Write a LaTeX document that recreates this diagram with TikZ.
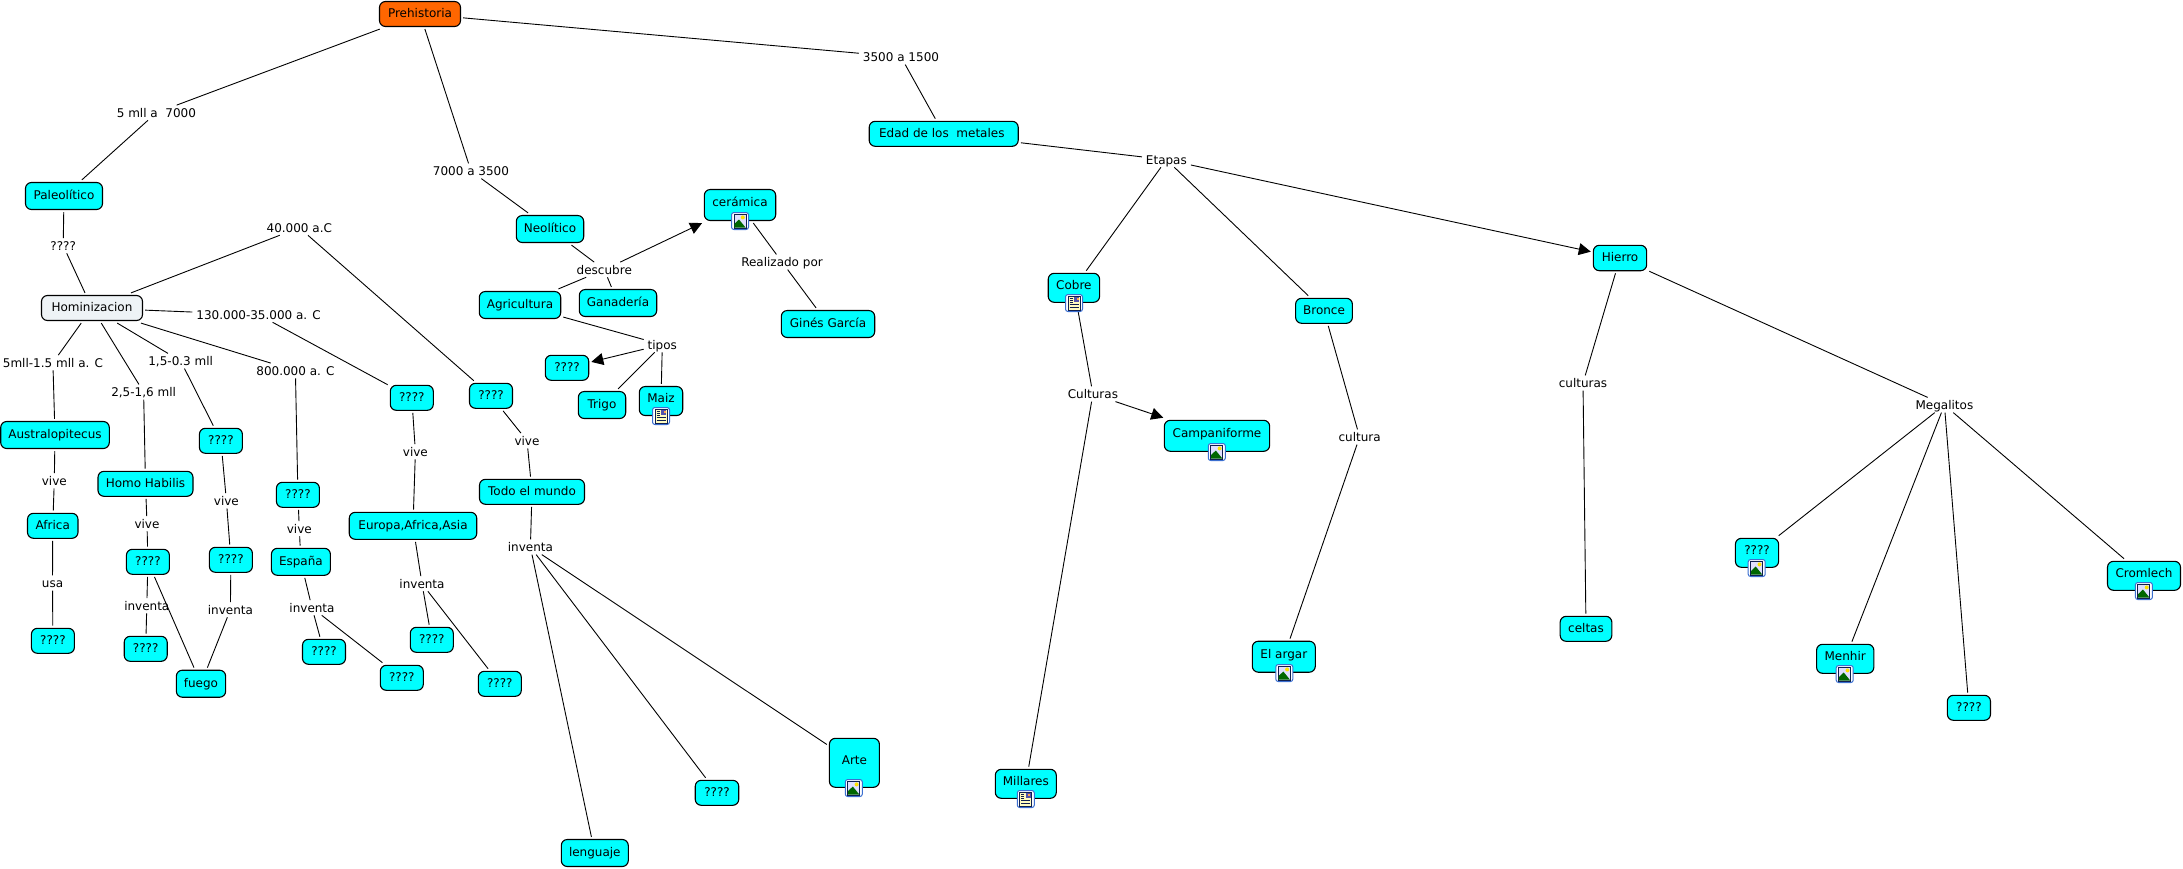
\documentclass[tikz,border=0pt]{standalone}
\usepackage{fontspec}
\setmainfont{DejaVu Sans}
\usetikzlibrary{arrows.meta}
\definecolor{cy}{HTML}{00FFFF}
\definecolor{orng}{HTML}{FF6600}
\definecolor{pale}{HTML}{EEF3F6}
\definecolor{iconblue}{HTML}{3B6FD0}
\definecolor{icondark}{HTML}{0F1F4F}
\newcommand{\up}[1]{\raisebox{1pt}{#1}}
\tikzset{
  x=0.5pt, y=-0.5pt,
  sz/.style 2 args={minimum width=#1*0.5pt, minimum height=#2*0.5pt},
  box/.style={draw=black, line width=0.55pt, fill=cy, rounded corners=3pt, inner sep=0pt, outer sep=1.3pt,
    font=\fontsize{6}{7}\selectfont, text height=4.7pt, text depth=0.9pt, align=center},
  lab/.style={inner xsep=2pt, inner ysep=0pt, outer sep=0pt, minimum height=7.6pt,
    font=\fontsize{6}{7}\selectfont, text height=5pt, text depth=0.6pt},
  con/.style={draw=black, line width=0.45pt},
  arr/.style={con, -{Triangle[length=6pt,width=6pt]}},
  imgicon/.pic={
    \draw[iconblue, line width=0.5pt, fill=white, rounded corners=1.2pt] (-8.5,-8.5) rectangle (8.5,8.5);
    \draw[icondark, line width=0.5pt, fill=blue!12] (-6,-7) rectangle (6,7);
    \fill[green!40!black] (-5.7,6.7) -- (-5.7,3) -- (-1,-1.5) -- (5.7,6.7) -- cycle;
    \fill[yellow!85!orange] (2.8,-3.6) circle (2);
  },
  docicon/.pic={
    \draw[iconblue, line width=0.5pt, fill=white, rounded corners=1.2pt] (-8.5,-8.5) rectangle (8.5,8.5);
    \draw[icondark, line width=0.5pt, fill=yellow!25] (-6,-7) rectangle (6,7);
    \fill[blue!35!gray] (0,-6) rectangle (5,-1);
    \fill[orange!70] (2.5,-5) rectangle (4.5,-3);
    \draw[icondark, line width=0.35pt] (-4.5,-5) -- (-1.5,-5) (-4.5,-3) -- (-1.5,-3) (-4.5,-1) -- (-1.5,-1)
      (-4.5,1.5) -- (4.5,1.5) (-4.5,4) -- (4.5,4);
  },
}
\begin{document}
\begin{tikzpicture}
\useasboundingbox (0,0) rectangle (2183,868);
\fill[white] (0,0) rectangle (2183,868);
% concepts
\node[box, fill=orng, sz={81}{25}] (pre) at (420,14) {Prehistoria};
\node[box, sz={77}{27}] (paleo) at (64,196) {Paleolítico};
\node[box, fill=pale, sz={101}{25}] (homin) at (92,308) {Hominizacion};
\node[box, sz={108.6}{27}] (austr) at (55,435) {Australopitecus};
\node[box, sz={95}{25}] (homo) at (145.5,483.8) {Homo Habilis};
\node[box, sz={50.5}{25}] (africa) at (52.75,525.8) {Africa};
\node[box, sz={43}{25}] (qusa) at (52.9,640.8) {????};
\node[box, sz={43}{25}] (qb) at (147.9,561.8) {????};
\node[box, sz={43}{25}] (qc) at (145.7,648.8) {????};
\node[box, sz={49.3}{27}] (fuego) at (201,683.7) {fuego};
\node[box, sz={43}{25}] (qd) at (220.9,440.8) {????};
\node[box, sz={43}{25}] (qe) at (230.9,559.8) {????};
\node[box, sz={43}{25}] (qf) at (297.9,494.8) {????};
\node[box, sz={59}{27}] (espana) at (300.9,561.8) {España};
\node[box, sz={43}{25}] (qg) at (324,651.8) {????};
\node[box, sz={43}{25}] (qh) at (401.8,677.8) {????};
\node[box, sz={127.5}{27}] (eur) at (413,525.8) {Europa,Africa,Asia};
\node[box, sz={43}{25}] (qi) at (431.8,639.8) {????};
\node[box, sz={43}{25}] (qj) at (499.8,683.8) {????};
\node[box, sz={43}{25}] (qk) at (411.8,397.8) {????};
\node[box, sz={43}{25}] (ql) at (491,395.8) {????};
\node[box, sz={105}{25}] (todo) at (532,491.8) {Todo el mundo};
\node[box, sz={67.4}{27}] (neo) at (550,229) {Neolítico};
\node[box, sz={81.4}{27}] (agri) at (520,305) {Agricultura};
\node[box, sz={77.4}{27}] (gana) at (618,303) {Ganadería};
\node[box, sz={71.4}{31}] (cer) at (740,205) {\up{cerámica}};
\node[box, sz={93.4}{27}] (gines) at (828,324) {Ginés García};
\node[box, sz={43.4}{25}] (qm) at (567,367.8) {????};
\node[box, sz={47.4}{27}] (trigo) at (602,405) {Trigo};
\node[box, sz={43.4}{29}] (maiz) at (661,401) {\up{Maiz}};
\node[box, sz={67}{27}] (leng) at (594.8,853) {lenguaje};
\node[box, sz={43.5}{25}] (qn) at (717,792.8) {????};
\node[box, sz={50}{49}] (arte) at (854.4,762.8) {\up{Arte}};
\node[box, sz={61}{29}] (mill) at (1025.8,783.8) {\up{Millares}};
\node[box, sz={149}{25}] (edad) at (943.7,133.8) {Edad de los\ \ metales\ };
\node[box, sz={51.4}{29}] (cobre) at (1073.9,287.8) {\up{Cobre}};
\node[box, sz={56.8}{25}] (bronce) at (1324,310.8) {Bronce};
\node[box, sz={105.3}{31}] (camp) at (1217,435.8) {\up{Campaniforme}};
\node[box, sz={63}{31}] (argar) at (1283.8,656.7) {\up{El argar}};
\node[box, sz={53.3}{25.4}] (hierro) at (1620,258) {Hierro};
\node[box, sz={51.7}{25}] (celtas) at (1586,628.8) {celtas};
\node[box, sz={43.2}{29}] (qo) at (1757,552.8) {\up{????}};
\node[box, sz={57.3}{29}] (menhir) at (1845.2,658.8) {\up{Menhir}};
\node[box, sz={43.1}{25}] (qp) at (1968.9,707.8) {????};
\node[box, sz={73}{29}] (crom) at (2144,575.8) {\up{Cromlech}};
% linking phrases
\node[lab] (l5m) at (156.4,112.7) {5 mll a\ \ 7000};
\node[lab] (l7k) at (471,171) {7000 a 3500};
\node[lab] (l35) at (901,57) {3500 a 1500};
\node[lab] (lq) at (63.2,245.7) {????};
\node[lab] (l40) at (299.3,227.7) {40.000 a.C};
\node[lab] (l130) at (258.6,314.7) {130.000-35.000 a. C};
\node[lab] (l5mb) at (52.9,362.7) {5mll-1.5 mll a. C};
\node[lab] (l25) at (143.6,392) {2,5-1,6 mll};
\node[lab] (l15) at (180.7,361) {1,5-0.3 mll};
\node[lab] (l800) at (295.4,370.7) {800.000 a. C};
\node[lab] (va) at (54.3,480.7) {vive};
\node[lab] (usa) at (52.5,583) {usa};
\node[lab] (vb) at (147,523.7) {vive};
\node[lab] (ia) at (146.8,605.7) {inventa};
\node[lab] (vc) at (226.4,500.7) {vive};
\node[lab] (ib) at (230.4,609.7) {inventa};
\node[lab] (vd) at (299.3,528.7) {vive};
\node[lab] (ic) at (312,607.7) {inventa};
\node[lab] (ve) at (415.4,451.7) {vive};
\node[lab] (id) at (422,583.7) {inventa};
\node[lab] (vf) at (527,440.7) {vive};
\node[lab] (ie) at (530.4,547) {inventa};
\node[lab] (desc) at (604.3,269.7) {descubre};
\node[lab] (tip) at (662.3,344.7) {tipos};
\node[lab] (real) at (782,262) {Realizado por};
\node[lab] (etap) at (1166.4,159.7) {Etapas};
\node[lab] (cult) at (1092.9,394) {Culturas};
\node[lab] (cul2) at (1359.6,437) {cultura};
\node[lab] (cul3) at (1583,383) {culturas};
\node[lab] (mega) at (1944.4,405) {Megalitos};
% connectors
\draw[con] (pre) -- (l5m);
\draw[con] (l5m) -- (paleo);
\draw[con] (pre) -- (l7k);
\draw[con] (l7k) -- (neo);
\draw[con] (pre) -- (l35);
\draw[con] (l35) -- (edad);
\draw[con] (paleo) -- (lq);
\draw[con] (lq) -- (homin);
\draw[con] (homin) -- (l40);
\draw[con] (l40) -- (ql);
\draw[con] (homin) -- (l130);
\draw[con] (l130) -- (qk);
\draw[con] (homin) -- (l5mb);
\draw[con] (l5mb) -- (austr);
\draw[con] (homin) -- (l25);
\draw[con] (l25) -- (homo);
\draw[con] (homin) -- (l15);
\draw[con] (l15) -- (qd);
\draw[con] (homin) -- (l800);
\draw[con] (l800) -- (qf);
\draw[con] (austr) -- (va);
\draw[con] (va) -- (africa);
\draw[con] (africa) -- (usa);
\draw[con] (usa) -- (qusa);
\draw[con] (homo) -- (vb);
\draw[con] (vb) -- (qb);
\draw[con] (qb) -- (ia);
\draw[con] (ia) -- (qc);
\draw[con] (qb) -- (fuego);
\draw[con] (qd) -- (vc);
\draw[con] (vc) -- (qe);
\draw[con] (qe) -- (ib);
\draw[con] (ib) -- (fuego);
\draw[con] (qf) -- (vd);
\draw[con] (vd) -- (espana);
\draw[con] (espana) -- (ic);
\draw[con] (ic) -- (qg);
\draw[con] (ic) -- (qh);
\draw[con] (qk) -- (ve);
\draw[con] (ve) -- (eur);
\draw[con] (eur) -- (id);
\draw[con] (id) -- (qi);
\draw[con] (id) -- (qj);
\draw[con] (ql) -- (vf);
\draw[con] (vf) -- (todo);
\draw[con] (todo) -- (ie);
\draw[con] (ie) -- (leng);
\draw[con] (ie) -- (qn);
\draw[con] (ie) -- (arte);
\draw[con] (neo) -- (desc);
\draw[con] (desc) -- (agri);
\draw[con] (desc) -- (gana);
\draw[arr] (desc) -- (cer);
\draw[con] (agri) -- (tip);
\draw[arr] (tip) -- (qm);
\draw[con] (tip) -- (trigo);
\draw[con] (tip) -- (maiz);
\draw[con] (cer) -- (real);
\draw[con] (real) -- (gines);
\draw[con] (edad) -- (etap);
\draw[con] (etap) -- (cobre);
\draw[con] (etap) -- (bronce);
\draw[arr] (etap) -- (hierro);
\draw[con] (cobre) -- (cult);
\draw[arr] (cult) -- (camp);
\draw[con] (cult) -- (mill);
\draw[con] (bronce) -- (cul2);
\draw[con] (cul2) -- (argar);
\draw[con] (hierro) -- (cul3);
\draw[con] (cul3) -- (celtas);
\draw[con] (hierro) -- (mega);
\draw[con] (mega) -- (qo);
\draw[con] (mega) -- (menhir);
\draw[con] (mega) -- (qp);
\draw[con] (mega) -- (crom);
% resource icons
\pic at (740,221) {imgicon};
\pic at (661,416) {docicon};
\pic at (853.8,788) {imgicon};
\pic at (1025.8,799) {docicon};
\pic at (1074,303) {docicon};
\pic at (1216.8,452) {imgicon};
\pic at (1284.3,673) {imgicon};
\pic at (1756.7,568) {imgicon};
\pic at (1844.7,674) {imgicon};
\pic at (2143.9,591) {imgicon};
\end{tikzpicture}
\end{document}
